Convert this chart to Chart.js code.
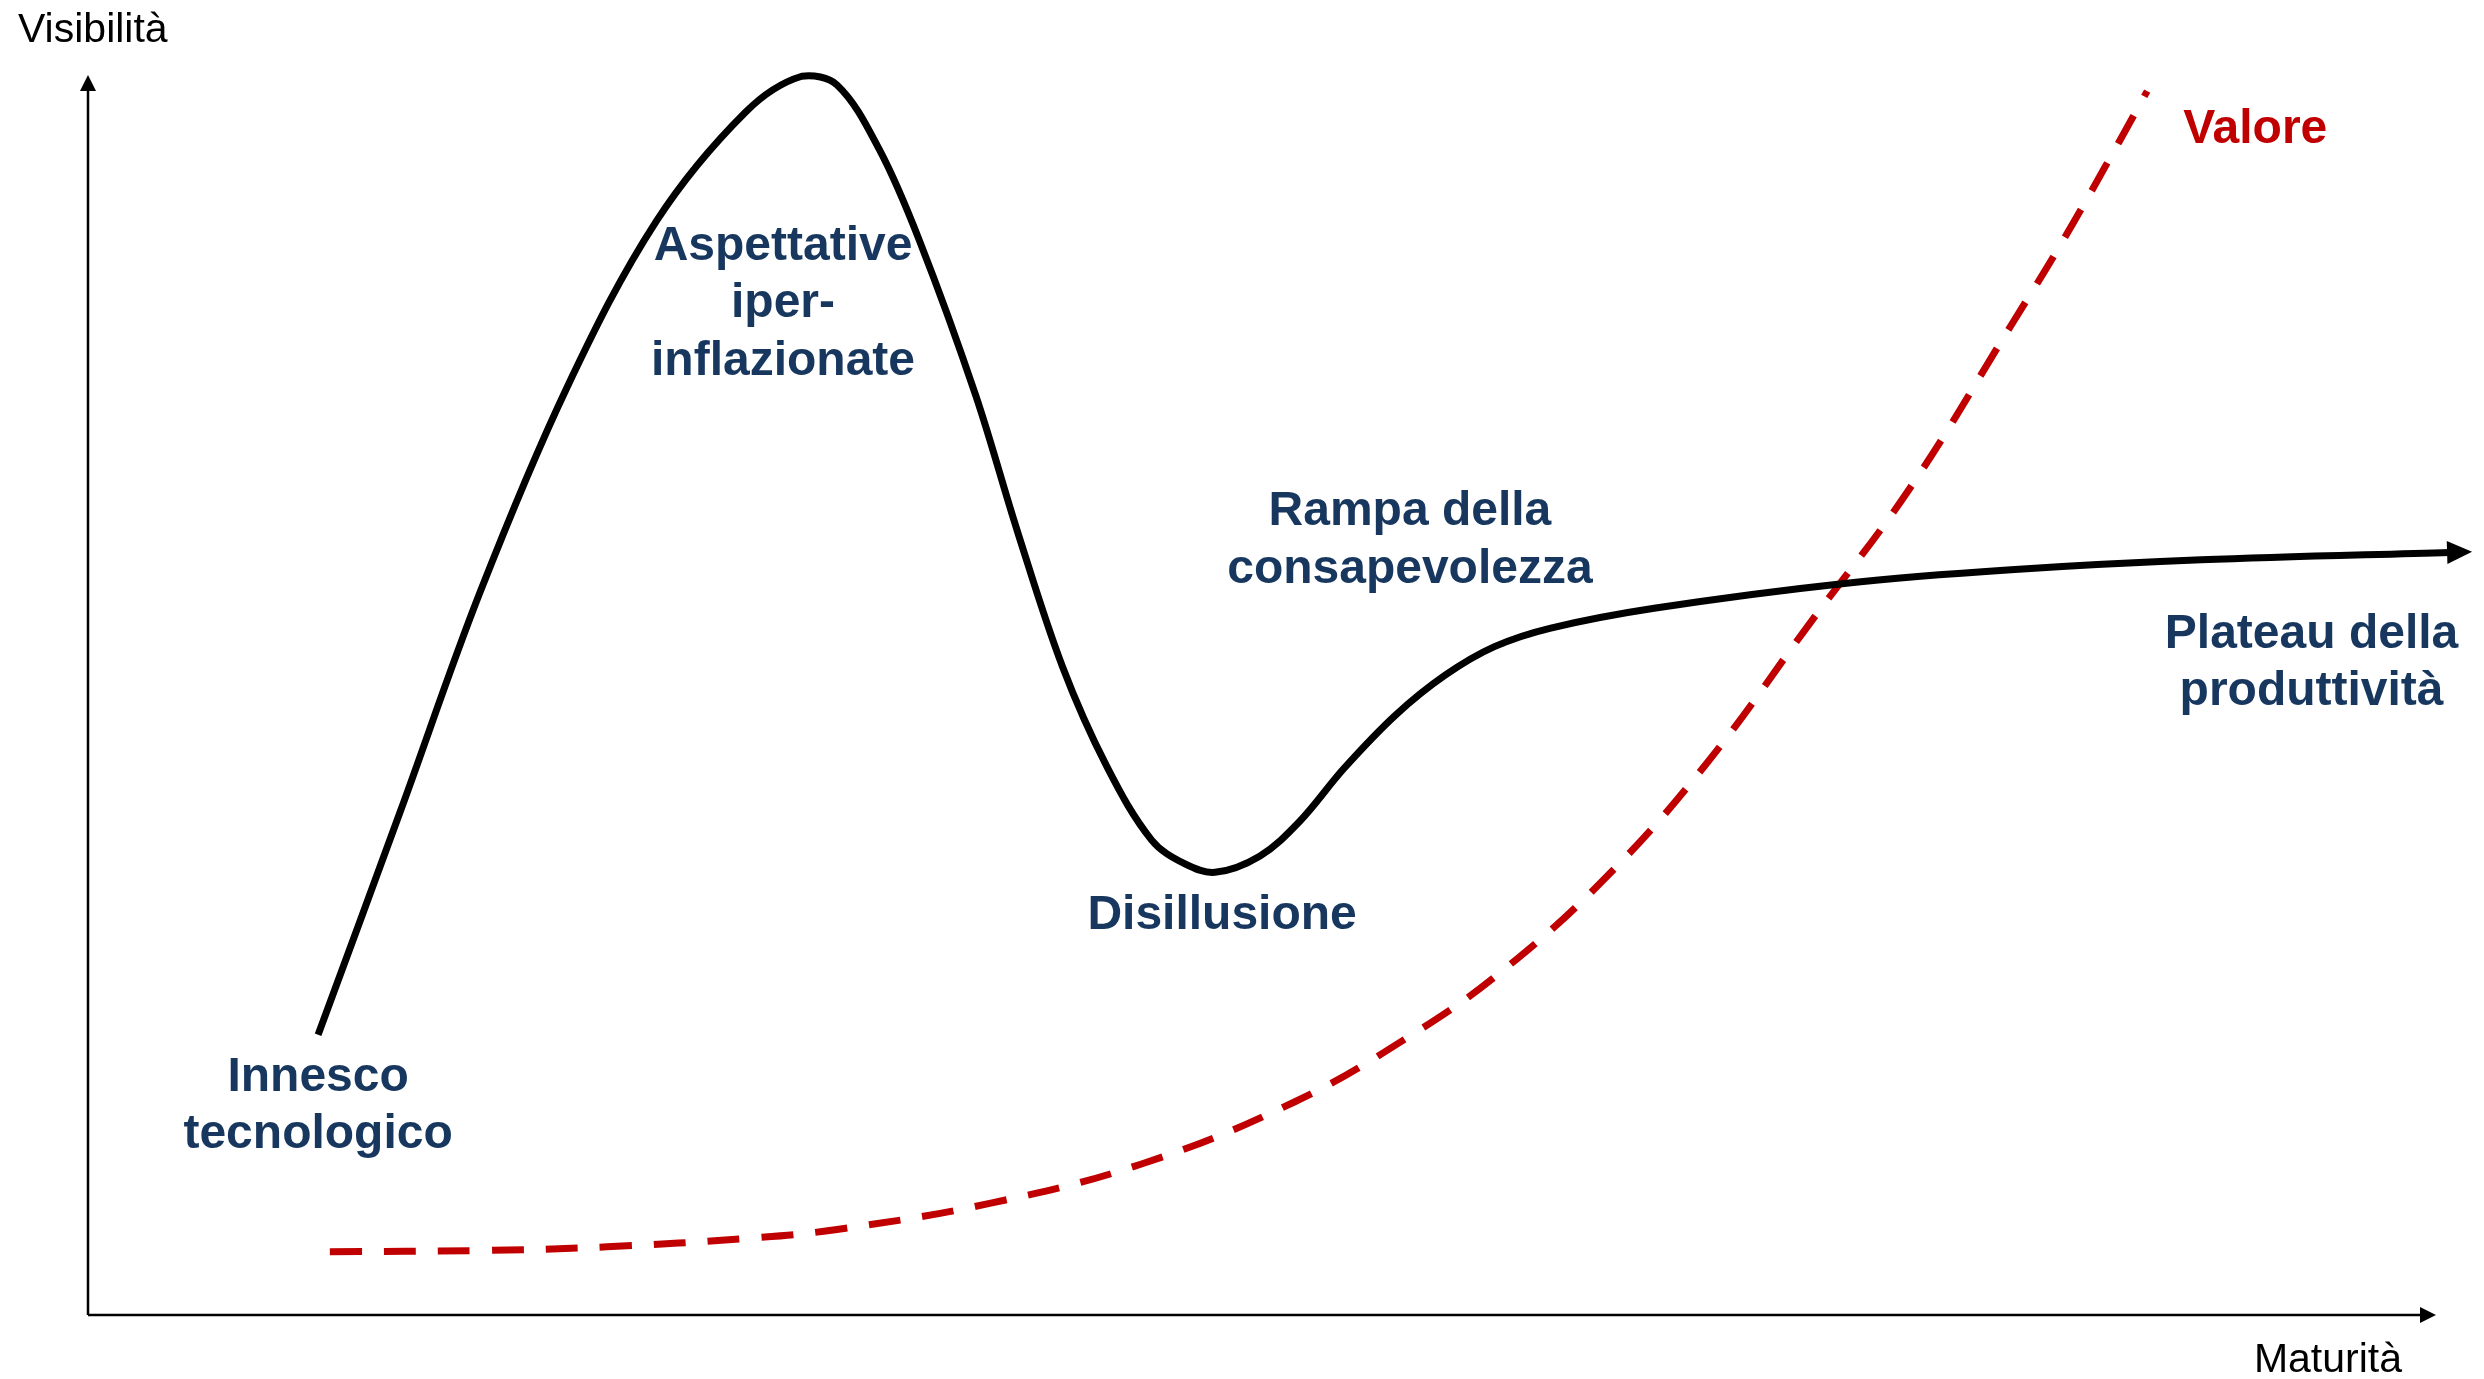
<!DOCTYPE html>
<html>
<head>
<meta charset="utf-8">
<title>Hype cycle</title>
<script src="https://cdn.jsdelivr.net/npm/chart.js@4.4.1/dist/chart.umd.min.js"></script>
<style>
  html, body { margin: 0; padding: 0; background: #fff; }
  canvas { display: block; }
</style>
</head>
<body>
<canvas id="hypeChart" width="2484" height="1379"></canvas>
<script>
// curve readings, in chart units (both axes 0..100)
const hypeX = [9.8, 13.3, 16.7, 20.4, 24.2, 28.0, 30.4, 31.9, 33.7, 35.4, 37.8, 39.6, 41.5, 43.4, 45.3, 46.7, 48.0, 49.9, 51.6, 53.5, 55.7, 57.8, 59.9, 62.3, 66.7, 74.8, 81.9, 90.0, 100.6];
const hypeY = [22.6, 40.6, 58.3, 74.8, 88.2, 97.0, 99.9, 99.2, 94.0, 86.7, 74.2, 63.1, 52.3, 44.2, 38.3, 36.4, 35.7, 37.0, 39.8, 44.1, 48.4, 51.6, 53.9, 55.4, 57.0, 59.0, 60.1, 60.9, 61.5];

const valueX = [10.3, 16.7, 22.1, 28.2, 31.9, 38.4, 44.9, 51.4, 56.3, 60.2, 64.6, 68.9, 73.3, 77.6, 81.9, 84.1, 86.5, 87.7];
const valueY = [5.1, 5.2, 5.5, 6.2, 6.9, 9.0, 12.2, 17.2, 22.5, 27.7, 35.2, 44.4, 55.7, 66.7, 79.8, 86.6, 94.6, 98.7];

const phaseLabels = ['Innesco\ntecnologico', 'Aspettative\niper-\ninflazionate', 'Disillusione', 'Rampa della\nconsapevolezza', 'Plateau della\nproduttività'];
const valueLabel = 'Valore';
const axisTitles = ['Visibilità', 'Maturità'];

// where the labels sit (center x, first baseline y), chart units
const phaseAnchors = [[9.8, 18.1], [29.6, 85.1], [48.3, 31.1], [56.3, 63.7], [94.7, 53.8]];
const valueAnchor = [92.3, 94.5];

const NAVY = '#17375E';
const RED = '#C00000';
const FONT = '"Liberation Sans", Arial, sans-serif';

function arrowHead(ctx, x, y, angle, len, half) {
    ctx.save();
    ctx.translate(x, y);
    ctx.rotate(angle);
    ctx.beginPath();
    ctx.moveTo(0, 0);
    ctx.lineTo(-len, -half);
    ctx.lineTo(-len, half);
    ctx.closePath();
    ctx.fill();
    ctx.restore();
}

function multiline(ctx, text, x, y, step) {
    text.split('\n').forEach(function (line, i) {
        ctx.fillText(line, x, y + i * step);
    });
}

const decor = {
    id: 'decor',
    afterDatasetsDraw(chart) {
        const ctx = chart.ctx;
        const area = chart.chartArea;
        const xs = chart.scales.x;
        const ys = chart.scales.y;
        const x0 = xs.getPixelForValue(0);
        const y0 = ys.getPixelForValue(0);

        ctx.save();
        // axes
        ctx.strokeStyle = '#000';
        ctx.fillStyle = '#000';
        ctx.lineWidth = 2.5;
        ctx.beginPath();
        ctx.moveTo(x0, y0);
        ctx.lineTo(x0, area.top + 12);
        ctx.moveTo(x0, y0);
        ctx.lineTo(area.right - 12, y0);
        ctx.stroke();
        arrowHead(ctx, x0, area.top, -Math.PI / 2, 16, 8);
        arrowHead(ctx, area.right, y0, 0, 16, 8);

        // arrow at the end of the hype curve
        const n = hypeX.length;
        const px1 = xs.getPixelForValue(hypeX[n - 1]);
        const py1 = ys.getPixelForValue(hypeY[n - 1]);
        const px0 = xs.getPixelForValue(hypeX[n - 2]);
        const py0 = ys.getPixelForValue(hypeY[n - 2]);
        const ang = Math.atan2(py1 - py0, px1 - px0);
        arrowHead(ctx, px1 + 22 * Math.cos(ang), py1 + 22 * Math.sin(ang), ang, 25, 11.5);

        // axis titles
        ctx.font = '41px ' + FONT;
        ctx.textBaseline = 'alphabetic';
        ctx.textAlign = 'left';
        ctx.fillText(axisTitles[0], area.left - 70, area.top - 33);
        ctx.textAlign = 'right';
        ctx.fillText(axisTitles[1], area.right - 34, area.bottom + 57);

        // phase labels
        ctx.font = 'bold 48px ' + FONT;
        ctx.textAlign = 'center';
        ctx.fillStyle = NAVY;
        phaseLabels.forEach(function (txt, i) {
            const a = phaseAnchors[i];
            multiline(ctx, txt, xs.getPixelForValue(a[0]), ys.getPixelForValue(a[1]), 57.5);
        });
        ctx.fillStyle = RED;
        ctx.fillText(valueLabel, xs.getPixelForValue(valueAnchor[0]), ys.getPixelForValue(valueAnchor[1]));
        ctx.restore();
    }
};

const data = {
    datasets: [
        {
            label: 'Hype',
            data: hypeX.map((x, i) => ({ x: x, y: hypeY[i] })),
            borderColor: '#000',
            borderWidth: 7,
            pointRadius: 0,
            tension: 0.35,
            clip: false
        },
        {
            label: valueLabel,
            data: valueX.map((x, i) => ({ x: x, y: valueY[i] })),
            borderColor: RED,
            borderWidth: 7,
            borderDash: [32, 22],
            pointRadius: 0,
            tension: 0.4,
            clip: false
        }
    ]
};

const config = {
    type: 'line',
    data: data,
    options: {
        responsive: false,
        devicePixelRatio: 1,
        animation: false,
        events: [],
        layout: {
            padding: { left: 88, right: 48, top: 75, bottom: 64 }
        },
        scales: {
            x: { type: 'linear', min: 0, max: 100, display: false },
            y: { type: 'linear', min: 0, max: 100, display: false }
        },
        plugins: {
            legend: { display: false },
            tooltip: { enabled: false }
        }
    },
    plugins: [decor]
};

const myChart = new Chart(document.getElementById('hypeChart'), config);
</script>
</body>
</html>
